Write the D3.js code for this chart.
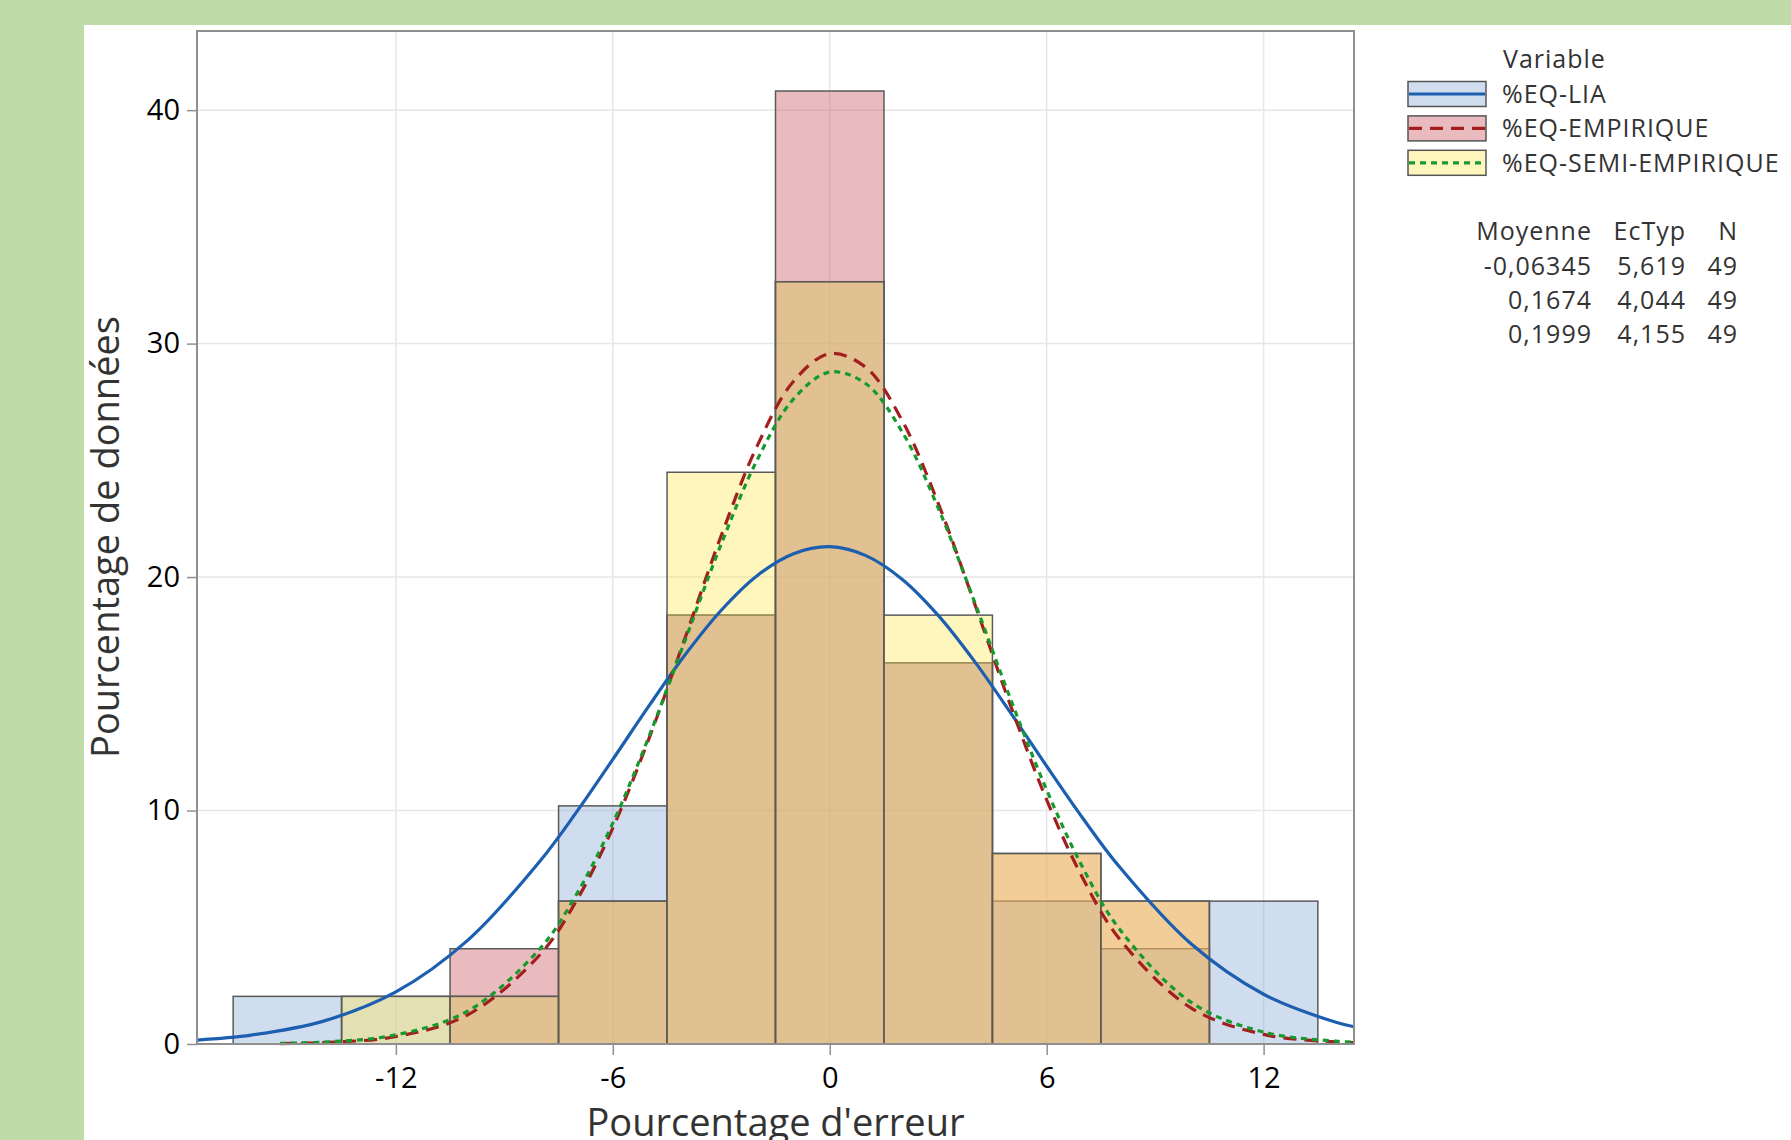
<!DOCTYPE html>
<html>
<head>
<meta charset="utf-8">
<script src="https://cdn.jsdelivr.net/npm/d3@7"></script>
<style>
  html, body { margin: 0; padding: 0; background: #bfdca8; }
  svg { display: block; font-family: "Open Sans", "Noto Sans", sans-serif; }
</style>
</head>
<body>
<div id="chart"></div>
<script>
// histogram bins (percentage of the 49 values in each bin)
var binCenters = [-15, -12, -9, -6, -3, 0, 3, 6, 9, 12];
var binWidth = 3;
var pctLIA = [2.04, 2.04, 2.04, 10.2, 18.37, 32.65, 16.33, 6.12, 4.08, 6.12];
var pctEMP = [0, 0, 4.08, 6.12, 18.37, 40.82, 16.33, 8.16, 6.12, 0];
var pctSEMI = [0, 2.04, 2.04, 6.12, 24.49, 32.65, 18.37, 8.16, 6.12, 0];

// fitted curves
var fitXLIA = [-17.5, -16, -14, -12, -10, -8, -7, -6, -5, -4, -3, -2, -1, 0, 1, 2, 3, 4, 5, 6, 7, 8, 10, 12, 14, 14.5];
var fitLIA = [0.17, 0.38, 0.98, 2.23, 4.46, 7.86, 9.94, 12.19, 14.48, 16.67, 18.58, 20.07, 21.0, 21.3, 20.92, 19.91, 18.36, 16.4, 14.19, 11.9, 9.67, 7.61, 4.28, 2.13, 0.93, 0.74];
var fitXEQ = [-15.2, -14, -12, -10, -8, -7, -6, -5, -4, -3, -2, -1, 0, 1, 2, 3, 4, 5, 6, 7, 8, 10, 12, 14, 14.5];
var fitEMP = [0.02, 0.06, 0.32, 1.26, 3.85, 6.15, 9.25, 13.08, 17.4, 21.78, 25.64, 28.39, 29.57, 28.98, 26.71, 23.16, 18.89, 14.5, 10.46, 7.1, 4.53, 1.54, 0.41, 0.09, 0.06];
var fitSEMI = [0.03, 0.08, 0.39, 1.42, 4.11, 6.42, 9.46, 13.17, 17.29, 21.42, 25.04, 27.63, 28.78, 28.28, 26.23, 22.96, 18.96, 14.78, 10.88, 7.55, 4.95, 1.78, 0.51, 0.12, 0.08];

var seriesNames = ["%EQ-LIA", "%EQ-EMPIRIQUE", "%EQ-SEMI-EMPIRIQUE"];
var statMean = ["-0,06345", "0,1674", "0,1999"];
var statStd = ["5,619", "4,044", "4,155"];
var statN = ["49", "49", "49"];

var xTicks = [-12, -6, 0, 6, 12];
var yTicks = [0, 10, 20, 30, 40];

var W = 1791, H = 1140;
var margin = { top: 31, left: 197, right: 437, bottom: 96 };
var width = W - margin.left - margin.right,
	height = H - margin.top - margin.bottom;

var fills = ["#89aad4", "#ca555c", "#ffe85c"];
var fillOpacity = 0.4;
var lineColors = ["#1c5fb0", "#a31f1f", "#169a2e"];
var dashes = [null, "13,8", "6,5"];

var svg = d3.select("#chart").append("svg")
	.attr("width", W)
	.attr("height", H);

// white panel over the green page
svg.append("rect")
	.attr("x", 84).attr("y", 25)
	.attr("width", W - 84).attr("height", H - 25)
	.attr("fill", "#fff");

var g = svg.append("g")
	.attr("transform", "translate(" + margin.left + "," + margin.top + ")");

var x = d3.scaleLinear().domain([-17.5, 14.5]).range([0, width]);
var y = d3.scaleLinear().domain([0, 43.39]).range([height, 0]);

// grid
g.append("g").selectAll("line.gx")
	.data(xTicks).enter().append("line")
	.attr("x1", function (d) { return x(d); })
	.attr("x2", function (d) { return x(d); })
	.attr("y1", 0).attr("y2", height)
	.attr("stroke", "#e6e6e6").attr("stroke-width", 1.5);
g.append("g").selectAll("line.gy")
	.data(yTicks.slice(1)).enter().append("line")
	.attr("x1", 0).attr("x2", width)
	.attr("y1", function (d) { return y(d); })
	.attr("y2", function (d) { return y(d); })
	.attr("stroke", "#e6e6e6").attr("stroke-width", 1.5);

// bars
var allPct = [pctLIA, pctEMP, pctSEMI];
allPct.forEach(function (vals, si) {
	var data = binCenters.map(function (c, i) { return { c: c, v: vals[i] }; })
		.filter(function (d) { return d.v > 0; });
	g.append("g").selectAll("rect")
		.data(data).enter().append("rect")
		.attr("x", function (d) { return x(d.c - binWidth / 2); })
		.attr("width", function (d) { return x(d.c + binWidth / 2) - x(d.c - binWidth / 2); })
		.attr("y", function (d) { return y(d.v); })
		.attr("height", function (d) { return height - y(d.v); })
		.attr("fill", fills[si])
		.attr("fill-opacity", fillOpacity)
		.attr("stroke", "#5a5a5a")
		.attr("stroke-width", 1.5);
});

// fitted curves
var line = d3.line()
	.x(function (d) { return x(d[0]); })
	.y(function (d) { return y(d[1]); })
	.curve(d3.curveCatmullRom);
var fits = [
	d3.zip(fitXLIA, fitLIA),
	d3.zip(fitXEQ, fitEMP),
	d3.zip(fitXEQ, fitSEMI)
];
fits.forEach(function (pts, si) {
	g.append("path")
		.datum(pts)
		.attr("d", line)
		.attr("fill", "none")
		.attr("stroke", lineColors[si])
		.attr("stroke-width", 3.2)
		.attr("stroke-dasharray", dashes[si]);
});

// frame
g.append("rect")
	.attr("width", width).attr("height", height)
	.attr("fill", "none")
	.attr("stroke", "#8f8f8f")
	.attr("stroke-width", 2);

// axes (plain hyphen for negatives, like the original)
var fmt = function (d) { return String(d); };
var xAxis = d3.axisBottom(x).tickValues(xTicks).tickSize(11).tickPadding(12).tickFormat(fmt);
var yAxis = d3.axisLeft(y).tickValues(yTicks).tickSize(10).tickPadding(7).tickFormat(fmt);

var gx = g.append("g")
	.attr("transform", "translate(0," + height + ")")
	.call(xAxis);
var gy = g.append("g").call(yAxis);
[gx, gy].forEach(function (a) {
	a.select(".domain").remove();
	a.selectAll(".tick line").attr("stroke", "#8f8f8f").attr("stroke-width", 1.5);
	a.selectAll(".tick text")
		.attr("fill", "#000")
		.style("font-size", "29px")
		.style("font-family", "'Open Sans', sans-serif");
});

// axis titles
svg.append("text")
	.attr("transform", "translate(119,537) rotate(-90)")
	.attr("text-anchor", "middle")
	.attr("fill", "#333")
	.style("font-size", "38px")
	.text("Pourcentage de données");
svg.append("text")
	.attr("x", margin.left + width / 2)
	.attr("y", 1136)
	.attr("text-anchor", "middle")
	.attr("fill", "#333")
	.style("font-size", "38px")
	.text("Pourcentage d'erreur");

// legend
var legFont = "25px", legSpacing = "1px";
var leg = svg.append("g");
leg.append("text")
	.attr("x", 1503).attr("y", 59.5).attr("dy", "0.35em")
	.attr("fill", "#333")
	.style("font-size", legFont)
	.style("letter-spacing", legSpacing)
	.text("Variable");
var rowY = [94, 128.4, 162.8];
seriesNames.forEach(function (name, i) {
	leg.append("rect")
		.attr("x", 1408).attr("y", rowY[i] - 12.5)
		.attr("width", 78).attr("height", 25)
		.attr("fill", fills[i]).attr("fill-opacity", fillOpacity)
		.attr("stroke", "#555").attr("stroke-width", 1.5);
	leg.append("line")
		.attr("x1", 1409).attr("x2", 1485)
		.attr("y1", rowY[i]).attr("y2", rowY[i])
		.attr("stroke", lineColors[i])
		.attr("stroke-width", 3.2)
		.attr("stroke-dasharray", dashes[i]);
	leg.append("text")
		.attr("x", 1502).attr("y", rowY[i]).attr("dy", "0.35em")
		.attr("fill", "#333")
		.style("font-size", legFont)
		.style("letter-spacing", legSpacing)
		.text(name);
});

// statistics table
var colRight = [1592, 1686, 1738];
var header = ["Moyenne", "EcTyp", "N"];
var tableY = [231.5, 265.9, 300.3, 334.7];
header.forEach(function (h, j) {
	leg.append("text")
		.attr("x", colRight[j]).attr("y", tableY[0]).attr("dy", "0.35em")
		.attr("text-anchor", "end")
		.attr("fill", "#333")
		.style("font-size", legFont)
		.style("letter-spacing", legSpacing)
		.text(h);
});
seriesNames.forEach(function (name, i) {
	[statMean[i], statStd[i], statN[i]].forEach(function (v, j) {
		leg.append("text")
			.attr("x", colRight[j]).attr("y", tableY[i + 1]).attr("dy", "0.35em")
			.attr("text-anchor", "end")
			.attr("fill", "#333")
			.style("font-size", legFont)
			.style("letter-spacing", legSpacing)
			.text(v);
	});
});
</script>
</body>
</html>
